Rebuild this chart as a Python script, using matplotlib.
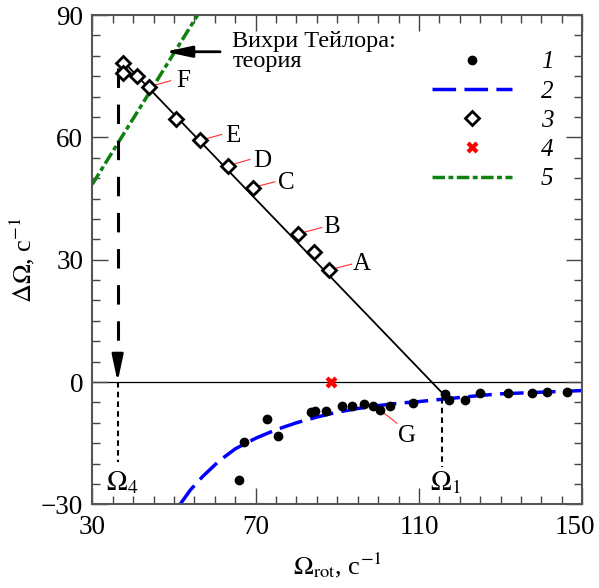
import matplotlib
matplotlib.use('Agg')
from matplotlib import pyplot as plt
from matplotlib.ticker import MultipleLocator
import matplotlib.transforms as mtrans

plt.rcParams['font.family'] = ['Liberation Serif', 'DejaVu Serif']
plt.rcParams['mathtext.fontset'] = 'stix'
plt.rcParams['lines.scale_dashes'] = False

# 1 - experiment (dots)
exp_x = [66.0, 67.2, 72.9, 75.6, 83.6, 84.5, 87.3, 91.1, 93.5, 96.6, 98.7, 100.5,
         102.9, 108.6, 116.4, 117.4, 121.3, 125.0, 131.8, 137.6, 141.3, 146.3]
exp_y = [-24.0, -14.6, -9.0, -13.2, -7.4, -7.1, -7.1, -6.0, -5.9, -5.4, -5.8, -6.9,
         -6.0, -5.2, -2.9, -4.5, -4.4, -2.7, -2.6, -2.6, -2.4, -2.4]

# 2 - fitted curve (dashed blue)
fit_x = [51.5, 54, 57, 61, 65, 70, 75, 80, 85, 90, 95, 100, 105, 110, 115,
         120, 125, 130, 135, 140, 145, 150]
fit_y = [-30.0, -26.5, -23.2, -19.4, -16.4, -13.8, -11.7, -10.0, -8.6, -7.4, -6.5,
         -5.8, -5.2, -4.8, -4.3, -3.8, -3.3, -2.9, -2.7, -2.5, -2.3, -2.1]

# 3 - Taylor vortex onset (diamonds)
taylor_x = [37.5, 37.6, 40.9, 43.9, 50.4, 56.4, 63.2, 69.3, 80.3, 84.4, 88.0]
taylor_y = [78.3, 75.9, 75.0, 72.4, 64.5, 59.3, 53.0, 47.7, 36.3, 31.8, 27.5]

# 4 - red cross
cross_x = [88.5]
cross_y = [0.0]

# 5 - theory (dash-dot green)
theory_x = [30.0, 55.8]
theory_y = [48.5, 90.0]

# linear fit through diamonds
line_x = [37.3, 116.0]
line_y = [78.9, -3.0]

# labelled points
point_names = ['A', 'B', 'C', 'D', 'E', 'F', 'G']
point_x = [88.0, 80.3, 69.3, 63.2, 56.4, 43.9, 100.5]
point_y = [27.5, 36.3, 47.7, 53.0, 59.3, 72.4, -6.9]
lead_x = [93.5, 86.2, 74.7, 68.6, 61.7, 49.2, 104.6]
lead_y = [28.9, 37.9, 49.1, 54.6, 60.7, 73.9, -10.1]
name_x = [93.9, 86.6, 75.6, 69.3, 62.5, 50.5, 104.9]
name_y = [27.5, 36.5, 47.3, 52.8, 58.9, 72.4, -14.6]

omega4 = 36.2
omega1 = 115.7

fig = plt.figure(figsize=(5.99, 5.88), dpi=100)
ax = fig.add_axes([0.1541, 0.1423, 0.818, 0.8321])

ax.axhline(0, color='k', lw=0.9, zorder=1)

fit_line, = ax.plot(fit_x, fit_y, color='#0000ff', lw=2.5, dashes=(17, 6), zorder=2)
theory_line, = ax.plot(theory_x, theory_y, color='#108010', lw=2.5,
                       dashes=(9, 2.5, 3.5, 2.5), zorder=2)
ax.plot(line_x, line_y, color='k', lw=1.3, zorder=3)

head = '-|>,head_length=0.8,head_width=0.17'

# Omega_4 and Omega_1 markers
ax.plot([omega4, omega4], [77, 5], color='k', lw=2.2, dashes=(14, 12), zorder=3)
ax.annotate('', xy=(omega4, 0), xytext=(omega4, 6),
            arrowprops=dict(arrowstyle=head, color='k', lw=2, mutation_scale=20,
                            shrinkA=0, shrinkB=0))
ax.plot([omega4, omega4], [0, -19.5], color='k', lw=1.5, dashes=(4, 3), zorder=3)
ax.plot([omega1, omega1], [-4, -20.8], color='k', lw=1.5, dashes=(4, 3), zorder=3)
ax.text(37.2, -26.5, r'$\Omega_4$', fontsize=20, ha='center', va='baseline')
ax.text(116.5, -26.5, r'$\Omega_1$', fontsize=20, ha='center', va='baseline')

for nx, ny, lx, ly in zip(point_x, point_y, lead_x, lead_y):
    ax.plot([nx, lx], [ny, ly], color='#ff3030', lw=0.8, zorder=2)
for name, tx, ty in zip(point_names, name_x, name_y):
    ax.text(tx, ty, name, fontsize=18, ha='left', va='baseline')

exp_pts, = ax.plot(exp_x, exp_y, ls='none', marker='o', color='k', ms=6, zorder=4)
taylor_pts, = ax.plot(taylor_x, taylor_y, ls='none', marker='D', mfc='white',
                      mec='k', mew=2, ms=7, zorder=5)
cross_pts, = ax.plot(cross_x, cross_y, ls='none', marker='X', color='red',
                     mec='none', ms=9, zorder=5)

# theory label with arrow
ax.annotate('', xy=(47.8, 81), xytext=(61.3, 81),
            arrowprops=dict(arrowstyle=head, color='k', lw=2, mutation_scale=20,
                            shrinkA=0, shrinkB=0))
ax.text(64.3, 82.2, 'Вихри Тейлора:', fontsize=17.5, va='baseline')
ax.text(64.4, 77.3, 'теория', fontsize=17.5, va='baseline')

ax.legend([exp_pts, fit_line, taylor_pts, cross_pts, theory_line],
          ['1', '2', '3', '4', '5'], loc='upper left', bbox_to_anchor=(0.693, 0.927),
          frameon=False, numpoints=1, handlelength=3.2, handletextpad=1.15,
          labelspacing=0.27, borderpad=0, borderaxespad=0,
          prop=dict(family='Liberation Serif', style='italic', size=18))

ax.set_xlim(30, 150)
ax.set_ylim(-30, 90)
ax.set_xticks([30, 70, 110, 150])
ax.set_yticks([-30, 0, 30, 60, 90])
ax.xaxis.set_minor_locator(MultipleLocator(5))
ax.yaxis.set_minor_locator(MultipleLocator(5))
ax.tick_params(which='both', direction='in', top=True, right=True,
               color='#444444', width=1, labelsize=19.5)
ax.tick_params(which='major', length=11.5)
ax.tick_params(which='minor', length=5.5)
ax.tick_params(axis='x', pad=8)
ax.tick_params(axis='y', pad=6.5)
for sp in ax.spines.values():
    sp.set_color('#555555')
    sp.set_linewidth(1.5)

# last x tick label sits a little left, as in the original
last = ax.xaxis.get_major_ticks()[-1].label1
last.set_transform(last.get_transform() +
                   mtrans.ScaledTranslation(-0.07, 0, fig.dpi_scale_trans))

ax.set_xlabel(r'$\Omega_{\mathrm{rot}}$, с$^{\mathrm{-1}}$', fontsize=19)
ax.set_ylabel(r'$\Delta\Omega$, с$^{\mathrm{-1}}$', fontsize=19)
ax.xaxis.set_label_coords(0.5, -0.095)
ax.yaxis.set_label_coords(-0.113, 0.5)

fig.savefig('out.png', dpi=100)
